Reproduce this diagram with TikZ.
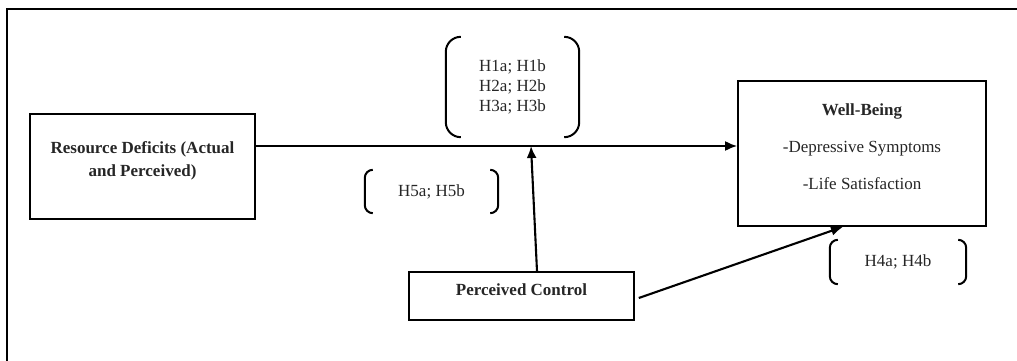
\documentclass[tikz,border=0pt]{standalone}
\usepackage{fontspec}
\setmainfont{Liberation Serif}
\usetikzlibrary{positioning, arrows.meta}
\tikzset {
    >={Latex[length=12pt, width=10pt]},
    x=1pt, y=-1pt,
    box/.style={draw, line width=1.6pt, inner sep=0pt},
    txt/.style={font=\fontsize{17}{20}\selectfont, align=center, inner sep=0pt, text=black!85},
    hyp/.style={txt, inner sep=0pt},
    link/.style={->, line width=2.1pt},
    paren/.style={line width=2pt}
}
% round brackets round a hypothesis node
\newcommand{\hypbrk}[2]{%
    \draw[paren, rounded corners=#2] ([xshift=#2]#1.north west) -- (#1.north west) -- (#1.south west) -- ([xshift=#2]#1.south west);
    \draw[paren, rounded corners=#2] ([xshift=-#2]#1.north east) -- (#1.north east) -- (#1.south east) -- ([xshift=-#2]#1.south east);
}
\begin{document}
\begin{tikzpicture}
    \useasboundingbox (0,0) rectangle (1017,361);
    \clip (0,0) rectangle (1017,361);
    \draw[line width=1.5pt] (1030,9) -- (7,9) -- (7,380);

    % boxes
    \node[box, minimum width=225, minimum height=105] (rd) at (142.5,166.5) {};
    \node[box, minimum width=248, minimum height=145] (wb) at (862,153.5) {};
    \node[box, minimum width=225, minimum height=48] (pc) at (521.5,296) {};

    \node[txt, font=\fontsize{17}{23}\selectfont\bfseries] (rdtext) at (142.5,161) {Resource Deficits (Actual\\and Perceived)};
    \node[txt] (wbtext) at (862,147) {\textbf{Well-Being}\\[17pt]-Depressive Symptoms\\[17pt]-Life Satisfaction};
    \node[txt, font=\fontsize{17}{20}\selectfont\bfseries] (pctext) at (521.5,290) {Perceived Control};

    % hypotheses
    \node[hyp, minimum width=133, minimum height=100] (h1) at (512.5,87) {H1a; H1b\\H2a; H2b\\H3a; H3b};
    \node[hyp, minimum width=133, minimum height=43] (h5) at (431.5,191.5) {H5a; H5b};
    \node[hyp, minimum width=136, minimum height=44] (h4) at (898,262) {H4a; H4b};
    \hypbrk{h1}{15pt}
    \hypbrk{h5}{8pt}
    \hypbrk{h4}{8pt}

    % paths
    \coordinate (m) at (531,146);
    \draw[link] ([yshift=20.5pt]rd.east) -- ([yshift=20.5pt]rd.east -| wb.west);
    \draw[link] ([xshift=15.5pt]pc.north) -- (m);
    \draw[link] ([xshift=4pt,yshift=-2pt]pc.east) -- ([xshift=-19pt]wb.south);
\end{tikzpicture}
\end{document}
